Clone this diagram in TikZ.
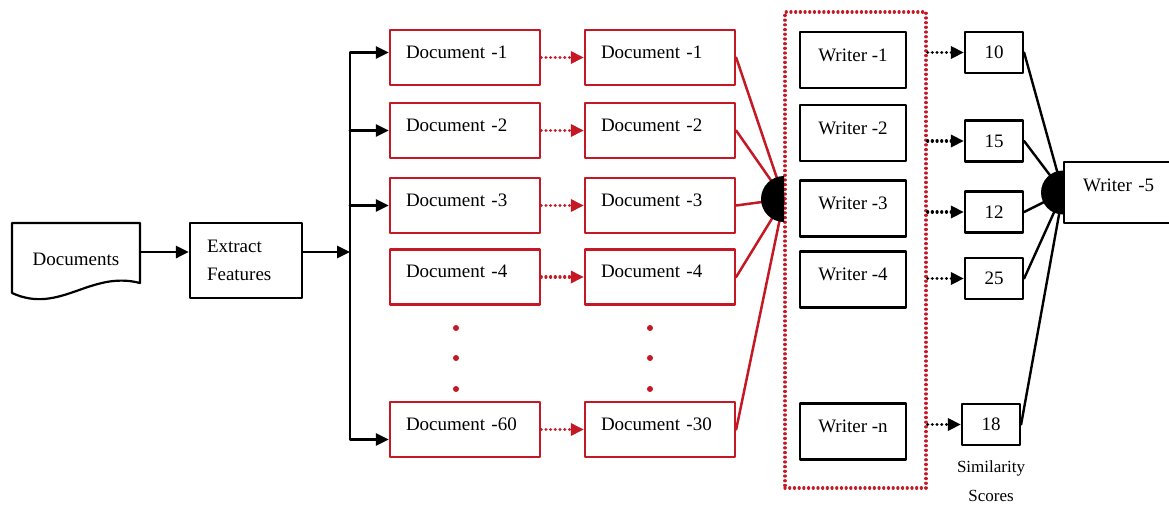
\documentclass[tikz,border=0pt]{standalone}
\usepackage{fontspec}
\setmainfont{Liberation Serif}
\usetikzlibrary{arrows.meta,positioning}
\definecolor{docred}{RGB}{196,24,36}

\begin{document}
\begin{tikzpicture}[x=1pt,y=-1pt,line cap=round,line join=round,>={Triangle[length=13pt,width=12pt]},
  every node/.style={font=\fontsize{19}{22}\selectfont},
  docbox/.style={draw=docred,line width=2.3pt,minimum width=150pt,minimum height=55pt,text width=118pt,
    inner xsep=16pt,inner ysep=4pt,text height=24pt,text depth=23pt,align=left},
  wrbox/.style={draw,line width=2.2pt,minimum width=106pt,minimum height=56pt,inner ysep=4pt,text height=25pt,text depth=23pt},
  scbox/.style={draw,line width=2.2pt,minimum width=58pt,minimum height=41pt,inner sep=0pt},
  flow/.style={->,line width=2.8pt},
  fan/.style={docred,line width=2.5pt},
  redlink/.style={->,docred,line width=3.2pt,dash pattern=on 0.1pt off 4.6pt},
  blklink/.style={->,line width=3.2pt,dash pattern=on 0.1pt off 4.6pt}]
  \useasboundingbox (0,0) rectangle (1169,506);

  % input side
  \node[minimum width=128pt,minimum height=72pt,inner sep=0pt] (docs) at (76,259) {Documents};
  \draw[line width=2.2pt] (12,293) -- (12,223) -- (140,223) -- (140,283) .. controls (90,270) and (60,315) .. (12,293);
  \node[draw,line width=2.2pt,minimum height=75pt,text width=78pt,inner xsep=17pt,align=left,
    font=\fontsize{19}{28}\selectfont] (extract) at (246,260.5) {Extract\\Features};
  \coordinate (bus) at (350,252);

  % documents, first column
  \node[docbox] (d1a) at (465,57.5) {Document -1};
  \node[docbox] (d2a) at (465,130.5) {Document -2};
  \node[docbox] (d3a) at (465,205.5) {Document -3};
  \node[docbox] (d4a) at (465,277) {Document -4};
  \node[docbox] (d60a) at (465,429.5) {Document -60};
  % documents, second column
  \node[docbox] (d1b) at (660,57.5) {Document -1};
  \node[docbox] (d2b) at (660,130.5) {Document -2};
  \node[docbox] (d3b) at (660,205.5) {Document -3};
  \node[docbox] (d4b) at (660,277) {Document -4};
  \node[docbox] (d30b) at (660,429.5) {Document -30};
  \foreach \y in {328,358,389} {
    \fill[docred] (456,\y) circle (3pt);
    \fill[docred] (650,\y) circle (3pt);
  }

  % writers
  \node[draw=docred,line width=3.2pt,dash pattern=on 0.1pt off 4.6pt,minimum width=141pt,minimum height=476pt] (grp) at (855.5,250) {};
  \node[wrbox] (w1) at (853,60) {Writer -1};
  \node[wrbox] (w2) at (853,133) {Writer -2};
  \node[wrbox] (w3) at (853,208.5) {Writer -3};
  \node[wrbox] (w4) at (853,279.5) {Writer -4};
  \node[wrbox] (wn) at (853,431.5) {Writer -n};
  \coordinate (hubA) at (784,199);

  % scores
  \node[scbox] (s1) at (994,52.5) {10};
  \node[scbox] (s2) at (994,141) {15};
  \node[scbox] (s3) at (994,212) {12};
  \node[scbox] (s4) at (994,278.5) {25};
  \node[scbox] (s5) at (991,424.5) {18};
  \node[below=14pt of s5,inner sep=0pt,align=center,font=\fontsize{17}{29}\selectfont] (simlbl) {Similarity\\Scores};
  \node[draw,line width=2.2pt,anchor=west,minimum width=130pt,text width=92pt,inner xsep=19pt,inner ysep=4pt,
    text height=25pt,text depth=28pt,align=left] (w5) at (1063,192.5) {Writer -5};
  \coordinate (hubB) at (w5.west);

  % connectors
  \draw[flow] (docs.east |- bus) -- (extract.west |- bus);
  \draw[flow] (extract.east |- bus) -- (bus);
  \draw[flow] (bus) |- ([yshift=5pt]d1a.west);
  \draw[flow] (bus |- d2a) -- (d2a);
  \draw[flow] (bus |- d3a) -- (d3a);
  \draw[flow] (bus) |- ([yshift=-10pt]d60a.west);
  \draw[redlink] (d1a) -- (d1b);
  \draw[redlink] (d2a) -- (d2b);
  \draw[redlink] (d3a) -- (d3b);
  \draw[redlink] (d4a) -- (d4b);
  \draw[redlink] (d60a) -- (d30b);
  \draw[fan] (d1b.east) -- (hubA);
  \draw[fan] (d2b.east) -- (hubA);
  \draw[fan] (d3b.east) -- (hubA);
  \draw[fan] (d4b.east) -- (hubA);
  \draw[fan] (d30b.east) -- (hubA);
  \fill (hubA) ++(0,-23) arc[start angle=90,end angle=270,radius=23pt] -- cycle;
  \draw[blklink] (grp.east |- s1) -- (s1);
  \draw[blklink] (grp.east |- s2) -- (s2);
  \draw[blklink] (grp.east |- s3) -- (s3);
  \draw[blklink] (grp.east |- s4) -- (s4);
  \draw[blklink] (grp.east |- s5) -- (s5);
  \draw[line width=2.4pt] (s1.east) -- (hubB);
  \draw[line width=2.4pt] (s2.east) -- (hubB);
  \draw[line width=2.4pt] (s3.east) -- (hubB);
  \draw[line width=2.4pt] (s4.east) -- (hubB);
  \draw[line width=2.4pt] (s5.east) -- (hubB);
  \fill (hubB) ++(0,-22) arc[start angle=90,end angle=270,radius=22pt] -- cycle;
\end{tikzpicture}
\end{document}
